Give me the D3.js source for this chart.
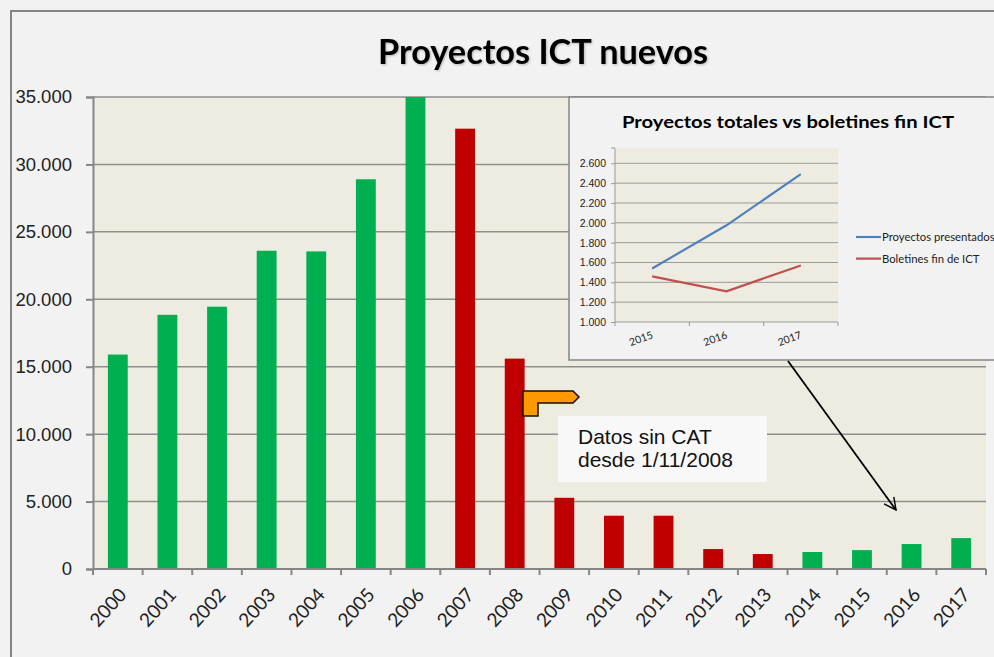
<!DOCTYPE html>
<html>
<head>
<meta charset="utf-8">
<script src="https://cdn.jsdelivr.net/npm/d3@7"></script>
<style>
  html, body { margin: 0; padding: 0; background: #f2f2f2; }
  svg { display: block; }
</style>
</head>
<body>
<div id="chart"></div>
<script>
// Main chart data
const years = ["2000","2001","2002","2003","2004","2005","2006","2007","2008",
               "2009","2010","2011","2012","2013","2014","2015","2016","2017"];
const proyectos = [15900, 18850, 19450, 23600, 23550, 28900, 35000, 32650, 15600,
                   5280, 3950, 3950, 1480, 1110, 1260, 1400, 1850, 2290];
const sinCat = ["2007","2008","2009","2010","2011","2012","2013"];
const yTicks = [0, 5000, 10000, 15000, 20000, 25000, 30000, 35000];

// Inset data
const insetYears = ["2015", "2016", "2017"];
const presentados = [1540, 1975, 2490];
const boletines = [1460, 1310, 1570];
const insetTicks = [1000, 1200, 1400, 1600, 1800, 2000, 2200, 2400, 2600];

const fmt = d => d3.format(",")(d).replace(/,/g, ".");

const W = 994, H = 657;
const svg = d3.select("#chart").append("svg")
    .attr("width", W).attr("height", H)
    .style("font-family", "Lato, 'Open Sans', sans-serif");

// Outer frame
svg.append("rect").attr("width", W).attr("height", H).attr("fill", "#f2f2f2");
svg.append("rect")
    .attr("x", 11).attr("y", 11).attr("width", W).attr("height", H)
    .attr("fill", "#f2f2f2").attr("stroke", "#858585").attr("stroke-width", 2);

// Title
svg.append("text")
    .attr("x", 543).attr("y", 64)
    .attr("text-anchor", "middle")
    .style("font-size", "34px").style("font-weight", "bold")
    .style("filter", "drop-shadow(1px 1px 1px rgba(0,0,0,0.25))")
    .attr("textLength", 330).attr("lengthAdjust", "spacingAndGlyphs")
    .text("Proyectos ICT nuevos");

// Plot area
const plot = { left: 93, right: 986, top: 97, bottom: 569 };

const x = d3.scaleBand()
    .domain(years)
    .range([plot.left, plot.right])
    .paddingInner(0.6).paddingOuter(0.3);
const xb = d3.scaleBand().domain(years).range([plot.left, plot.right]);

const y = d3.scaleLinear()
    .domain([0, 35000])
    .range([plot.bottom, plot.top]);

svg.append("rect")
    .attr("x", plot.left).attr("y", plot.top)
    .attr("width", plot.right - plot.left).attr("height", plot.bottom - plot.top)
    .attr("fill", "#eeece1");

// Gridlines
svg.append("g").selectAll("line")
    .data(yTicks.filter(d => d > 0))
    .join("line")
      .attr("x1", plot.left).attr("x2", plot.right)
      .attr("y1", d => y(d)).attr("y2", d => y(d))
      .attr("stroke", "#8e8e8e").attr("stroke-width", 1.5);

// Bars
svg.append("g").selectAll("rect")
    .data(years.map((yr, i) => ({ yr, v: proyectos[i] })))
    .join("rect")
      .attr("x", d => x(d.yr))
      .attr("y", d => y(d.v))
      .attr("width", x.bandwidth())
      .attr("height", d => y(0) - y(d.v))
      .attr("fill", d => sinCat.includes(d.yr) ? "#c00000" : "#00b050");

// Y axis
const yAxis = svg.append("g")
    .attr("transform", `translate(${plot.left},0)`)
    .call(d3.axisLeft(y).tickValues(yTicks).tickFormat(fmt).tickSize(7).tickPadding(14));
yAxis.select(".domain").attr("stroke", "#868686").attr("stroke-width", 2);
yAxis.selectAll(".tick line").attr("stroke", "#868686").attr("stroke-width", 2);
yAxis.selectAll("text").style("font-size", "18.5px").attr("fill", "#222");

// X axis: ticks between categories
const xAxis = svg.append("g")
    .attr("transform", `translate(0,${plot.bottom})`);
xAxis.append("line")
    .attr("x1", plot.left).attr("x2", plot.right)
    .attr("stroke", "#868686").attr("stroke-width", 2);
xAxis.selectAll("line.tk")
    .data(years.concat(["end"]))
    .join("line").attr("class", "tk")
      .attr("x1", (d, i) => i < years.length ? xb(d) : plot.right)
      .attr("x2", (d, i) => i < years.length ? xb(d) : plot.right)
      .attr("y1", 0).attr("y2", 6)
      .attr("stroke", "#868686").attr("stroke-width", 2);
xAxis.selectAll("text")
    .data(years)
    .join("text")
      .attr("transform", d => `translate(${xb(d) + xb.bandwidth() / 2 + 5},${22}) rotate(-48)`)
      .attr("text-anchor", "end")
      .attr("dy", "0.35em")
      .style("font-size", "19px")
      .attr("fill", "#222")
      .text(d => d);

// Orange callout arrow
const cx = 523, cy = 391;
svg.append("path")
    .attr("d", `M${cx},${cy} L${cx + 50},${cy} L${cx + 56},${cy + 6} L${cx + 50},${cy + 12}
                L${cx + 15},${cy + 12} L${cx + 15},${cy + 25} L${cx},${cy + 25} Z`)
    .attr("fill", "#ff9900").attr("stroke", "#111").attr("stroke-width", 1.5);

// Note textbox
svg.append("rect")
    .attr("x", 558).attr("y", 416).attr("width", 209).attr("height", 66)
    .attr("fill", "#f8f8f8");
const note = svg.append("text")
    .attr("x", 578).attr("y", 444)
    .style("font-family", "'Liberation Sans', Arial, sans-serif")
    .style("font-size", "21px").attr("fill", "#111");
note.append("tspan").attr("x", 578).text("Datos sin CAT");
note.append("tspan").attr("x", 578).attr("y", 467).text("desde 1/11/2008");

// Inset chart
const inset = svg.append("g");
inset.append("rect")
    .attr("x", 569).attr("y", 97).attr("width", 440).attr("height", 263)
    .attr("fill", "#f2f2f2").attr("stroke", "#858585").attr("stroke-width", 1.5);

inset.append("text")
    .attr("x", 788).attr("y", 128)
    .attr("text-anchor", "middle")
    .style("font-size", "17px").style("font-weight", "bold")
    .attr("textLength", 332).attr("lengthAdjust", "spacingAndGlyphs")
    .text("Proyectos totales vs boletines fin ICT");

const ip = { left: 615, right: 838, top: 148, bottom: 322 };
const ix = d3.scaleBand().domain(insetYears).range([ip.left, ip.right]);
const iy = d3.scaleLinear().domain([1000, 2600]).range([ip.bottom, 163.3]);

inset.append("rect")
    .attr("x", ip.left).attr("y", ip.top)
    .attr("width", ip.right - ip.left).attr("height", ip.bottom - ip.top)
    .attr("fill", "#eeece1");
inset.append("g").selectAll("line")
    .data(insetTicks.filter(d => d > 1000))
    .join("line")
      .attr("x1", ip.left).attr("x2", ip.right)
      .attr("y1", d => iy(d)).attr("y2", d => iy(d))
      .attr("stroke", "#9a9a9a").attr("stroke-width", 1);

const iyAxis = inset.append("g")
    .attr("transform", `translate(${ip.left},0)`)
    .call(d3.axisLeft(iy).tickValues(insetTicks).tickFormat(fmt).tickSize(4).tickPadding(5));
iyAxis.select(".domain").attr("d", `M-4,${ip.top}H0V${ip.bottom}`)
    .attr("stroke", "#9a9a9a");
iyAxis.selectAll(".tick line").attr("stroke", "#9a9a9a");
iyAxis.selectAll("text").style("font-size", "10.5px").attr("fill", "#222");

const ixAxis = inset.append("g").attr("transform", `translate(0,${ip.bottom})`);
ixAxis.append("line").attr("x1", ip.left).attr("x2", ip.right)
    .attr("stroke", "#9a9a9a");
ixAxis.selectAll("line.tk")
    .data(insetYears.concat(["end"]))
    .join("line").attr("class", "tk")
      .attr("x1", (d, i) => i < insetYears.length ? ix(d) : ip.right)
      .attr("x2", (d, i) => i < insetYears.length ? ix(d) : ip.right)
      .attr("y1", 0).attr("y2", 4)
      .attr("stroke", "#9a9a9a");
ixAxis.selectAll("text")
    .data(insetYears)
    .join("text")
      .attr("transform", d => `translate(${ix(d) + ix.bandwidth() / 2 - 10},${20}) rotate(-20)`)
      .attr("text-anchor", "middle")
      .style("font-size", "10.5px")
      .attr("fill", "#222")
      .text(d => d);

const line = d3.line()
    .x((d, i) => ix(insetYears[i]) + ix.bandwidth() / 2)
    .y(d => iy(d));
inset.append("path").attr("d", line(presentados))
    .attr("fill", "none").attr("stroke", "#4f81bd").attr("stroke-width", 2.2);
inset.append("path").attr("d", line(boletines))
    .attr("fill", "none").attr("stroke", "#c0504d").attr("stroke-width", 2.2);

// Inset legend
const legend = [
  { name: "Proyectos presentados", color: "#4f81bd" },
  { name: "Boletines fin de ICT", color: "#c0504d" }
];
const lg = inset.selectAll("g.lg").data(legend).join("g")
    .attr("class", "lg")
    .attr("transform", (d, i) => `translate(856,${237 + i * 21.6})`);
lg.append("line").attr("x1", 0).attr("x2", 25)
    .attr("stroke", d => d.color).attr("stroke-width", 2.2);
lg.append("text").attr("x", 26).attr("dy", "0.35em")
    .style("font-size", "11.3px").attr("fill", "#222")
    .text(d => d.name);

// Black arrow from inset to recent bars
svg.append("defs").append("marker")
    .attr("id", "arrow").attr("viewBox", "0 0 12 12")
    .attr("refX", 11).attr("refY", 6)
    .attr("markerWidth", 8).attr("markerHeight", 8)
    .attr("markerUnits", "strokeWidth").attr("orient", "auto")
  .append("path").attr("d", "M1,1 L11,6 L1,11")
    .attr("fill", "none").attr("stroke", "#000").attr("stroke-width", 1.2);
svg.append("line")
    .attr("x1", 788).attr("y1", 361).attr("x2", 896).attr("y2", 510)
    .attr("stroke", "#000").attr("stroke-width", 1.8)
    .attr("marker-end", "url(#arrow)");
</script>
</body>
</html>
